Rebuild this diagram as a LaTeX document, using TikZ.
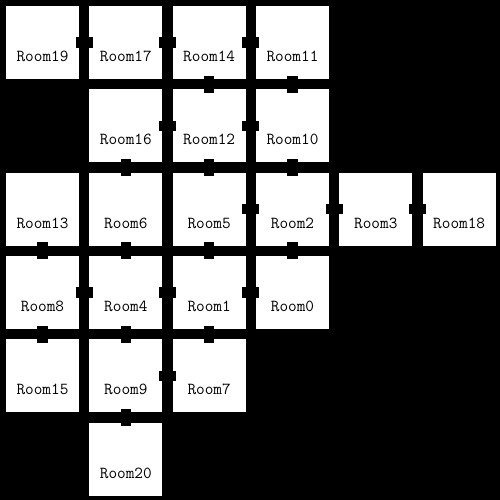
\documentclass[tikz,border=0pt]{standalone}
\usepackage{fontspec}
\tikzset{
  room/.style={fill=white, draw=none, minimum size=73pt, inner sep=0pt, outer sep=0pt},
  roomtext/.style={font=\ttfamily\fontsize{16.8}{18}\selectfont, text=black, inner sep=0pt, yshift=-14pt},
  hdoor/.style={fill=black, draw=none, minimum width=17pt, minimum height=10.5pt, inner sep=0pt},
  vdoor/.style={fill=black, draw=none, minimum width=10.5pt, minimum height=17pt, inner sep=0pt},
}
\newcommand\room[4]{\node[room, label={[roomtext]center:#4}] (#1) at ({42.5+83.33*#2},{42.5+83.33*#3}) {};}
\newcommand\hd[2]{\path (#1) -- (#2) node[midway, hdoor] {};}
\newcommand\vd[2]{\path (#1) -- (#2) node[midway, vdoor] {};}
\begin{document}
\begin{tikzpicture}[x=1pt, y=-1pt]
\fill[black] (0,0) rectangle (500,500);
\useasboundingbox (0,0) rectangle (500,500);
% row 0
\room{r19}{0}{0}{Room19}
\room{r17}{1}{0}{Room17}
\room{r14}{2}{0}{Room14}
\room{r11}{3}{0}{Room11}
% row 1
\room{r16}{1}{1}{Room16}
\room{r12}{2}{1}{Room12}
\room{r10}{3}{1}{Room10}
% row 2
\room{r13}{0}{2}{Room13}
\room{r6}{1}{2}{Room6}
\room{r5}{2}{2}{Room5}
\room{r2}{3}{2}{Room2}
\room{r3}{4}{2}{Room3}
\room{r18}{5}{2}{Room18}
% row 3
\room{r8}{0}{3}{Room8}
\room{r4}{1}{3}{Room4}
\room{r1}{2}{3}{Room1}
\room{r0}{3}{3}{Room0}
% row 4
\room{r15}{0}{4}{Room15}
\room{r9}{1}{4}{Room9}
\room{r7}{2}{4}{Room7}
% row 5
\room{r20}{1}{5}{Room20}
% horizontal doors
\hd{r19}{r17}
\hd{r17}{r14}
\hd{r14}{r11}
\hd{r16}{r12}
\hd{r12}{r10}
\hd{r5}{r2}
\hd{r2}{r3}
\hd{r3}{r18}
\hd{r8}{r4}
\hd{r4}{r1}
\hd{r1}{r0}
\hd{r9}{r7}
% vertical doors
\vd{r13}{r8}
\vd{r8}{r15}
\vd{r16}{r6}
\vd{r6}{r4}
\vd{r4}{r9}
\vd{r9}{r20}
\vd{r14}{r12}
\vd{r12}{r5}
\vd{r5}{r1}
\vd{r1}{r7}
\vd{r11}{r10}
\vd{r10}{r2}
\vd{r2}{r0}
\end{tikzpicture}
\end{document}
